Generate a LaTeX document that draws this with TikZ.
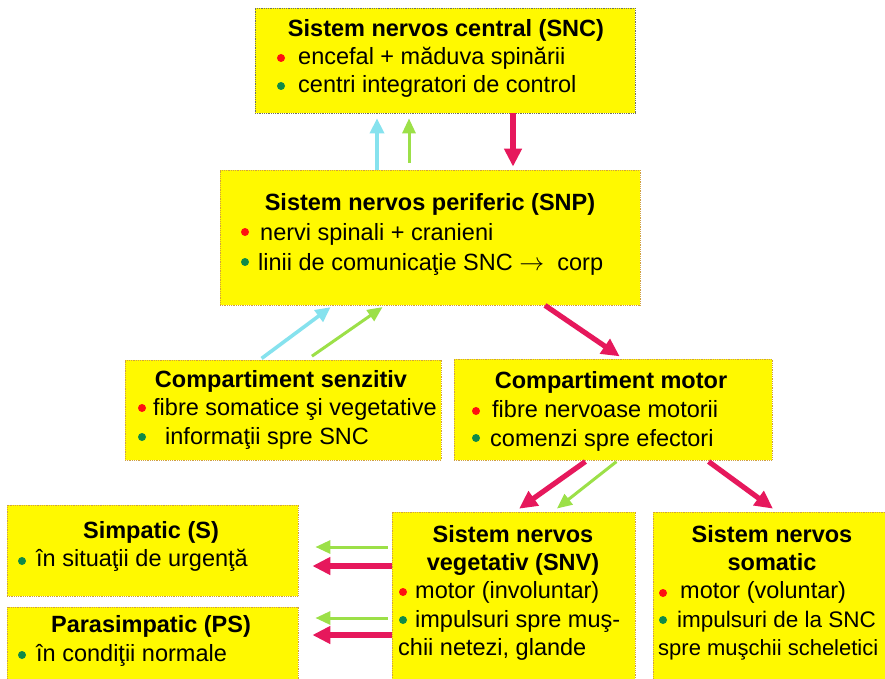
\documentclass[tikz,border=0pt]{standalone}
\usepackage{fontspec}
\setmainfont{Liberation Sans}
\usetikzlibrary{arrows.meta}
\definecolor{boxyellow}{HTML}{FFF900}
\definecolor{boxedge}{HTML}{D0A040}
\definecolor{snceddge}{HTML}{707060}
\definecolor{arrred}{HTML}{E6185C}
\definecolor{arrgreen}{HTML}{9CE048}
\definecolor{arrcyan}{HTML}{86E2EE}
\definecolor{dotred}{HTML}{FF1010}
\definecolor{dotgreen}{HTML}{108A48}
\tikzset{
  ybox/.style={draw=boxedge, densely dotted, line width=0.8pt, fill=boxyellow, minimum width=#1, inner sep=0pt},
  ttl/.style={anchor=base, font=\fontsize{23.5}{26}\selectfont\bfseries, inner sep=0pt},
  txt/.style={anchor=base west, font=\fontsize{23.5}{26}\selectfont, inner sep=0pt},
  rdot/.style={circle, fill=dotred, inner sep=0pt, minimum size=8pt},
  gdot/.style={circle, fill=dotgreen, inner sep=0pt, minimum size=8pt},
  redarr/.style={draw=arrred, line width=5.2pt, -{Triangle[length=18pt,width=17pt]}},
  greenarr/.style={draw=arrgreen, line width=3pt, -{Triangle[length=15pt,width=13pt]}},
  cyanarr/.style={draw=arrcyan, line width=3.6pt, -{Triangle[length=15pt,width=14pt]}},
}
\begin{document}
\begin{tikzpicture}[x=1pt,y=-1pt]
\clip (0,0) rectangle (885,679);
\fill[white] (0,0) rectangle (885,679);
% boxes
\node[ybox=380pt, minimum height=105pt, draw=snceddge] (snc) at (445,60.5) {};
\node[ybox=420pt, minimum height=135pt] (snp) at (430,237.5) {};
\node[ybox=316pt, minimum height=100pt] (senz) at (283,410) {};
\node[ybox=318pt, minimum height=101pt] (mot) at (613,409.5) {};
\node[ybox=291pt, minimum height=91pt] (simp) at (152.5,550.5) {};
\node[ybox=291pt, minimum height=80pt] (psimp) at (152.5,647) {};
\node[ybox=243pt, minimum height=175pt] (snv) at (513.5,599.5) {};
\node[ybox=240pt, minimum height=175pt] (som) at (773,599.5) {};
% SNC text
\node[ttl] (t1) at (446,37) {Sistem nervos central (SNC)};
\node[rdot] (d1a) at (281,58) {};
\node[txt] (l1a) at (298,65) {encefal + măduva spinării};
\node[gdot] (d1b) at (281,86) {};
\node[txt] (l1b) at (298,93) {centri integratori de control};
% SNP text
\node[ttl] (t2) at (430,210) {Sistem nervos periferic (SNP)};
\node[rdot] (d2a) at (245,232) {};
\node[txt] (l2a) at (260,240) {nervi spinali + cranieni};
\node[gdot] (d2b) at (245,262) {};
\node[txt] (l2b) at (258,270) {linii de comunicaţie SNC $\rightarrow$\ \ corp};
% senzitiv
\node[ttl] (t3) at (281,387) {Compartiment senzitiv};
\node[rdot] (d3a) at (142,408) {};
\node[txt] (l3a) at (153,415) {fibre somatice şi vegetative};
\node[gdot] (d3b) at (142,437) {};
\node[txt] (l3b) at (165,444) {informaţii spre SNC};
% motor
\node[ttl] (t4) at (611,388) {Compartiment motor};
\node[rdot] (d4a) at (476,411) {};
\node[txt] (l4a) at (492,417) {fibre nervoase motorii};
\node[gdot] (d4b) at (476,438) {};
\node[txt] (l4b) at (490,446) {comenzi spre efectori};
% simpatic
\node[ttl] (t5) at (151,538) {Simpatic (S)};
\node[gdot] (d5) at (22,561) {};
\node[txt] (l5) at (36,566) {în situaţii de urgenţă};
% parasimpatic
\node[ttl] (t6) at (151,632) {Parasimpatic (PS)};
\node[gdot] (d6) at (22,655) {};
\node[txt] (l6) at (36,661) {în condiţii normale};
% SNV
\node[ttl] (t7a) at (513,542) {Sistem nervos};
\node[ttl] (t7b) at (513,570) {vegetativ (SNV)};
\node[rdot] (d7a) at (403,592) {};
\node[txt] (l7a) at (415,598) {motor (involuntar)};
\node[gdot] (d7b) at (403,620) {};
\node[txt] (l7b) at (415,627) {impulsuri spre muş-};
\node[txt] (l7c) at (398,655) {chii netezi, glande};
% somatic
\node[ttl] (t8a) at (772,542) {Sistem nervos};
\node[ttl] (t8b) at (772,570) {somatic};
\node[rdot] (d8a) at (663,593) {};
\node[txt] (l8a) at (680,598) {motor (voluntar)};
\node[gdot] (d8b) at (663,620) {};
\node[txt, font=\fontsize{22.5}{26}\selectfont] (l8b) at (677,627) {impulsuri de la SNC};
\node[txt, font=\fontsize{22}{26}\selectfont] (l8c) at (658,655) {spre muşchii scheletici};
% arrows SNP <-> SNC
\draw[cyanarr, shorten >=5pt] (377,0 |- snp.north) -- (377,0 |- snc.south);
\draw[greenarr, shorten <=7pt, shorten >=5pt] (409,0 |- snp.north) -- (409,0 |- snc.south);
\draw[redarr, shorten >=3pt] (513,0 |- snc.south) -- (513,0 |- snp.north);
% senzitiv -> SNP, SNP -> motor
\draw[cyanarr, shorten <=2pt, shorten >=3pt] (260,0 |- senz.north) -- (333,0 |- snp.south);
\draw[greenarr, shorten <=6pt, shorten >=3pt] (307,0 |- senz.north) -- (385,0 |- snp.south);
\draw[redarr, shorten >=4pt] (545,0 |- snp.south) -- (623,0 |- mot.north);
% motor -> SNV, somatic
\draw[redarr, shorten <=2pt, shorten >=5pt] (587,0 |- mot.south) -- (515,0 |- snv.north);
\draw[greenarr, shorten <=2pt, shorten >=5pt] (618,0 |- mot.south) -- (553,0 |- snv.north);
\draw[redarr, shorten <=2pt, shorten >=5pt] (707,0 |- mot.south) -- (777,0 |- som.north);
% SNV -> S, PS
\draw[greenarr, shorten <=4pt, shorten >=17pt] (snv.west |- 0,547) -- (simp.east |- 0,547);
\draw[redarr, shorten >=14pt] (snv.west |- 0,566) -- (simp.east |- 0,566);
\draw[greenarr, shorten <=4pt, shorten >=17pt] (snv.west |- 0,618) -- (psimp.east |- 0,618);
\draw[redarr, shorten >=14pt] (snv.west |- 0,635) -- (psimp.east |- 0,635);
\end{tikzpicture}
\end{document}
